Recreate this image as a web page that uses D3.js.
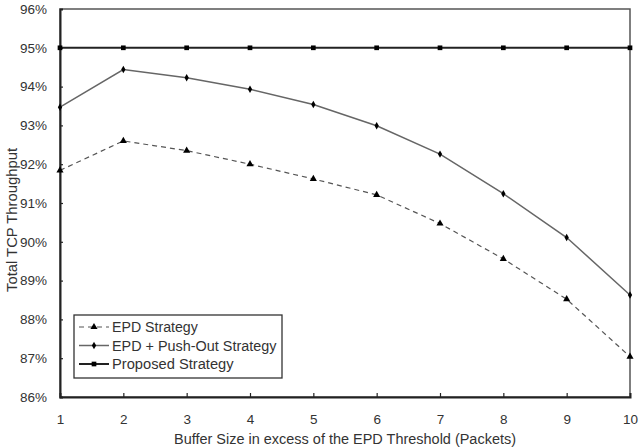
<!DOCTYPE html>
<html>
<head>
<meta charset="utf-8">
<script src="https://cdn.jsdelivr.net/npm/d3@7"></script>
<style>
  body { margin: 0; background: #fff; }
  text { font-family: "Liberation Sans", Arial, sans-serif; fill: #333; }
</style>
</head>
<body>
<div id="chart"></div>
<script>
let svgWidth = 639;
let svgHeight = 447;

let mar = { top: 9, bottom: 50, right: 9, left: 60 };
let wdt = svgWidth - mar.left - mar.right;
let hgt = svgHeight - mar.top - mar.bottom;

// data
let bufferSizes = [1, 2, 3, 4, 5, 6, 7, 8, 9, 10];
let epd = [91.84, 92.6, 92.35, 92.0, 91.62, 91.21, 90.47, 89.56, 88.52, 87.04];
let epdPushOut = [93.47, 94.44, 94.23, 93.93, 93.54, 92.99, 92.26, 91.24, 90.11, 88.63];
let proposed = [95, 95, 95, 95, 95, 95, 95, 95, 95, 95];
let yTicks = [86, 87, 88, 89, 90, 91, 92, 93, 94, 95, 96];

let svg = d3.select("#chart")
    .append("svg")
    .attr("width", svgWidth)
    .attr("height", svgHeight);
let chart = svg.append("g")
    .attr("transform", `translate(${mar.left}, ${mar.top})`);

let x = d3.scaleLinear().domain([1, 10]).range([0, wdt]);
let y = d3.scaleLinear().domain([86, 96]).range([hgt, 0]);

// frame
chart.append("rect")
    .attr("width", wdt)
    .attr("height", hgt)
    .attr("fill", "none")
    .attr("stroke", "#555")
    .attr("stroke-width", 1.5);

let xAxis = chart.append("g")
    .attr("transform", `translate(0, ${hgt})`)
    .call(d3.axisBottom(x).tickValues(bufferSizes).tickSize(-4).tickPadding(17).tickFormat(d3.format("d")));
let yAxis = chart.append("g")
    .call(d3.axisLeft(y).tickValues(yTicks).tickSize(-3).tickPadding(13).tickFormat(d => d + "%"));

[xAxis, yAxis].forEach(a => {
    a.select(".domain").attr("stroke", "#222").attr("stroke-width", 2);
    a.selectAll(".tick line").attr("stroke", "#222").attr("stroke-width", 1.2);
    a.selectAll("text").attr("font-size", 13.5).attr("fill", "#333")
        .attr("font-family", "Liberation Sans, Arial, sans-serif");
});
xAxis.selectAll(".tick").filter(d => d === 1 || d === 10).select("line").remove();
yAxis.selectAll(".tick").filter(d => d === 86 || d === 96).select("line").remove();

// axis titles
svg.append("text")
    .attr("x", mar.left + wdt / 2)
    .attr("y", 444)
    .attr("text-anchor", "middle")
    .attr("font-size", 14)
    .attr("textLength", 342)
    .attr("lengthAdjust", "spacingAndGlyphs")
    .text("Buffer Size in excess of the EPD Threshold (Packets)");
svg.append("text")
    .attr("transform", `translate(17, ${mar.top + hgt / 2 + 17}) rotate(-90)`)
    .attr("text-anchor", "middle")
    .attr("font-size", 14)
    .attr("textLength", 144)
    .attr("lengthAdjust", "spacingAndGlyphs")
    .text("Total TCP Throughput");

let line = d3.line()
    .x((d, i) => x(bufferSizes[i]))
    .y(d => y(d));

let series = [
    { name: "EPD Strategy", values: epd, color: "#555", width: 1.2, dash: "5,4", marker: d3.symbolTriangle, msize: 22 },
    { name: "EPD + Push-Out Strategy", values: epdPushOut, color: "#666", width: 1.5, dash: null, marker: d3.symbolDiamond, msize: 16 },
    { name: "Proposed Strategy", values: proposed, color: "#222", width: 2, dash: null, marker: d3.symbolSquare, msize: 22 }
];

series.forEach(s => {
    chart.append("path")
        .datum(s.values)
        .attr("d", line)
        .attr("fill", "none")
        .attr("stroke", s.color)
        .attr("stroke-width", s.width)
        .attr("stroke-dasharray", s.dash);
    chart.selectAll(null)
        .data(s.values)
        .enter()
        .append("path")
        .attr("d", d3.symbol().type(s.marker).size(s.msize))
        .attr("transform", (d, i) => `translate(${x(bufferSizes[i])}, ${y(d)})`)
        .attr("fill", "#000");
});

// legend
let legend = svg.append("g").attr("transform", "translate(74, 315)");
legend.append("rect")
    .attr("width", 208)
    .attr("height", 63)
    .attr("fill", "#fff")
    .attr("stroke", "#333")
    .attr("stroke-width", 1.3);
series.forEach((s, i) => {
    let row = legend.append("g").attr("transform", `translate(0, ${12 + i * 18.5})`);
    row.append("line")
        .attr("x1", 5).attr("x2", 35)
        .attr("stroke", s.color)
        .attr("stroke-width", s.width)
        .attr("stroke-dasharray", s.dash ? "5,4" : null);
    row.append("path")
        .attr("d", d3.symbol().type(s.marker).size(s.msize))
        .attr("transform", "translate(20, 0)")
        .attr("fill", "#000");
    row.append("text")
        .attr("x", 38)
        .attr("y", 5)
        .attr("font-size", 14)
        .attr("textLength", s.name.length * 7.15)
        .attr("lengthAdjust", "spacingAndGlyphs")
        .text(s.name);
});
</script>
</body>
</html>
